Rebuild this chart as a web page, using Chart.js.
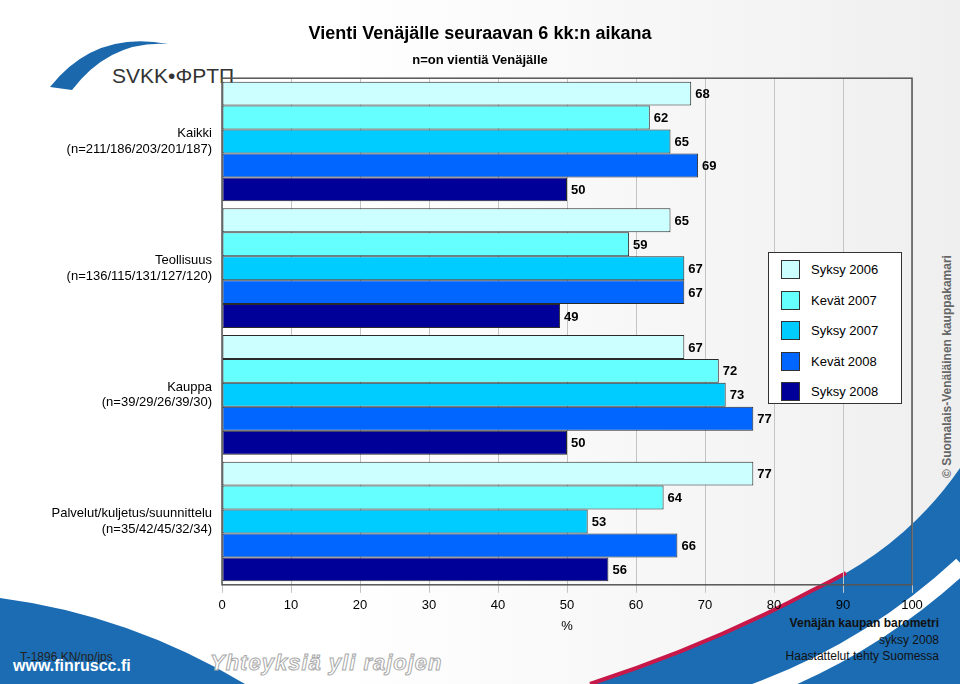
<!DOCTYPE html>
<html>
<head>
<meta charset="utf-8">
<script src="https://cdn.jsdelivr.net/npm/chart.js@4.4.0/dist/chart.umd.min.js"></script>
<style>
  html, body { margin: 0; padding: 0; }
  body { width: 960px; height: 684px; position: relative; overflow: hidden;
         background: linear-gradient(to right, #ffffff 0%, #ffffff 35%, #efefef 100%);
         font-family: "Liberation Sans", Arial, sans-serif; }
  #deko { position: absolute; left: 0; top: 0; }
  #wrap { position: absolute; left: 0; top: 0; width: 960px; height: 684px; }
  #legenda { position: absolute; left: 768px; top: 252px; width: 132px; height: 150px;
             border: 1px solid #333; background: #fff; }
  .rivi { position: absolute; left: 12px; height: 20px; font-size: 13px; color: #000; }
  .rivi span.box { position: absolute; left: 0; top: 0; width: 17px; height: 17px; border: 1px solid #333; }
  .rivi span.txt { position: absolute; left: 30px; top: 2px; white-space: nowrap; }
  .teksti { position: absolute; white-space: nowrap; }
</style>
</head>
<body>
<svg id="deko" width="960" height="684">
  <!-- logon kaari -->
  <path d="M50 87 Q95 30 168 44 Q110 40 72 90 Z" fill="#1b68ad"/>
  <!-- alavasen sininen -->
  <path d="M0 598 Q130 615 245 684 L0 684 Z" fill="#1b6cb3"/>
  <!-- alaoikea sininen + punainen + valkoinen -->
  <path d="M590 684 Q710 645 813 590 Q905 548 960 468 L960 684 Z" fill="#1b6cb3"/>
  <path d="M590 684 Q710 645 813 590 Q830 582 846 573" fill="none" stroke="#c8184a" stroke-width="4"/>
  <path d="M755 692 Q870 650 962 565" fill="none" stroke="#ffffff" stroke-width="17"/>
</svg>
<div class="teksti" style="left:112px; top:64px; font-size:21px; color:#333;">SVKK•ΦΡΤΠ</div>
<div class="teksti" style="left:940px; top:478px; font-size:12px; font-weight:bold; color:#666; transform-origin:0 0; transform:rotate(-90deg);">© Suomalais-Venäläinen kauppakamari</div>
<div class="teksti" style="left:20px; top:650px; font-size:12px; color:#222;">T-1896 KN/np/jps</div>
<div class="teksti" style="left:13px; top:657px; font-size:16px; font-weight:bold; color:#fff;">www.finruscc.fi</div>
<div class="teksti" style="left:210px; top:650px; font-size:22px; font-weight:bold; font-style:italic; color:#fff; -webkit-text-stroke:1px #aaa; letter-spacing:1px;">Yhteyksiä yli rajojen</div>
<div class="teksti" style="right:21px; top:616px; font-size:12px; font-weight:bold; color:#111; text-align:right;">Venäjän kaupan barometri</div>
<div class="teksti" style="right:21px; top:633px; font-size:12px; color:#111; text-align:right;">syksy 2008</div>
<div class="teksti" style="right:21px; top:649px; font-size:12px; color:#111; text-align:right;">Haastattelut tehty Suomessa</div>
<div id="wrap"><canvas id="kaavio" width="960" height="684"></canvas></div>
<div id="legenda"></div>
<script>
// Kategoriat ja sarjat
const kategoriat = [
  ['Kaikki', '(n=211/186/203/201/187)'],
  ['Teollisuus', '(n=136/115/131/127/120)'],
  ['Kauppa', '(n=39/29/26/39/30)'],
  ['Palvelut/kuljetus/suunnittelu', '(n=35/42/45/32/34)']
];
const sarjat = ['Syksy 2006', 'Kevät 2007', 'Syksy 2007', 'Kevät 2008', 'Syksy 2008'];
const syksy2006 = [68, 65, 67, 77];
const kevat2007 = [62, 59, 72, 64];
const syksy2007 = [65, 67, 73, 53];
const kevat2008 = [69, 67, 77, 66];
const syksy2008 = [50, 49, 50, 56];
const xTicks = [0, 10, 20, 30, 40, 50, 60, 70, 80, 90, 100];

const varit = ['#ccffff', '#66ffff', '#00ccff', '#0066ff', '#000099'];
const arvot = [syksy2006, kevat2007, syksy2007, kevat2008, syksy2008];

const fontti = '"Liberation Sans", Arial, sans-serif';

// Piirtoalueen kehys
const alueKehys = {
  id: 'alueKehys',
  afterDraw(chart) {
    const a = chart.chartArea, ctx = chart.ctx;
    ctx.save();
    ctx.strokeStyle = '#555';
    ctx.lineWidth = 1.5;
    ctx.strokeRect(a.left, a.top, a.right - a.left, a.bottom - a.top);
    ctx.restore();
  }
};

// Arvot palkkien perään
const arvoTekstit = {
  id: 'arvoTekstit',
  afterDatasetsDraw(chart) {
    const ctx = chart.ctx;
    ctx.save();
    ctx.font = 'bold 13px ' + fontti;
    ctx.fillStyle = '#000';
    ctx.textBaseline = 'middle';
    ctx.textAlign = 'left';
    chart.data.datasets.forEach((ds, i) => {
      chart.getDatasetMeta(i).data.forEach((el, j) => {
        ctx.fillText(ds.data[j], el.x + 4, el.y + 1);
      });
    });
    ctx.restore();
  }
};

const ctx = document.getElementById('kaavio').getContext('2d');
new Chart(ctx, {
  type: 'bar',
  data: {
    labels: kategoriat,
    datasets: sarjat.map((nimi, i) => ({
      label: nimi,
      data: arvot[i],
      backgroundColor: varit[i],
      borderColor: '#2a2a2a',
      borderWidth: 1,
      borderSkipped: false,
      barPercentage: 1,
      categoryPercentage: 0.945
    }))
  },
  options: {
    indexAxis: 'y',
    responsive: false,
    animation: false,
    layout: { padding: { left: 0, right: 0, top: 0, bottom: 50 } },
    plugins: {
      legend: { display: false },
      tooltip: { enabled: false },
      title: {
        display: true,
        text: 'Vienti Venäjälle seuraavan 6 kk:n aikana',
        color: '#000',
        font: { family: fontti, size: 18, weight: 'bold' },
        padding: { top: 23, bottom: 6 }
      },
      subtitle: {
        display: true,
        text: 'n=on vientiä Venäjälle',
        color: '#000',
        font: { family: fontti, size: 13, weight: 'bold' },
        padding: { top: 2, bottom: 10 }
      }
    },
    scales: {
      x: {
        min: 0,
        max: 100,
        afterBuildTicks(scale) { scale.ticks = xTicks.map(v => ({ value: v })); },
        grid: { color: '#c4c4c4', tickLength: 8 },
        border: { display: false },
        ticks: { color: '#000', font: { family: fontti, size: 13 }, padding: 5, maxRotation: 0 },
        title: { display: true, text: '%', color: '#000', font: { family: fontti, size: 13 }, padding: { top: 0, bottom: 0 } }
      },
      y: {
        grid: { display: false, drawTicks: false },
        border: { display: false },
        afterFit(scale) { scale.width = 222; },
        ticks: { color: '#000', font: { family: fontti, size: 13 }, padding: 10 }
      },
      // tyhjä oikea akseli, jotta otsikko keskittyy koko kuvaan
      yOikea: {
        type: 'category',
        position: 'right',
        grid: { display: false, drawTicks: false },
        border: { display: false },
        ticks: { display: false },
        afterFit(scale) { scale.width = 48; }
      }
    }
  },
  plugins: [alueKehys, arvoTekstit]
});

// Selite
const legenda = document.getElementById('legenda');
sarjat.forEach((nimi, i) => {
  const r = document.createElement('div');
  r.className = 'rivi';
  r.style.top = (7 + i * 30.5) + 'px';
  r.innerHTML = '<span class="box" style="background:' + varit[i] + '"></span><span class="txt">' + nimi + '</span>';
  legenda.appendChild(r);
});
</script>
</body>
</html>
